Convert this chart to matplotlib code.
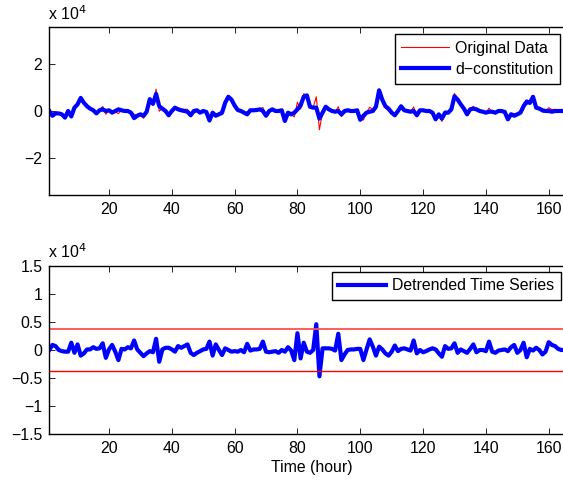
import matplotlib
matplotlib.use("Agg")
import matplotlib.pyplot as plt
from matplotlib.ticker import FuncFormatter

plt.rcParams["font.family"] = ["Liberation Sans", "DejaVu Sans"]
plt.rcParams["font.size"] = 11.4

hours = list(range(1, 169))

# d-constitution (smoothed component), raw units
d_constitution = [
    0, -2000, -1000, -1000, -1400, -2800, 0, -2300, 1400, 2800,
    5500, 3500, 2000, 1000, 300, -1000, 300, 700, 0, 300,
    -700, 0, 700, 300, 0, 0, -700, -3000, -2000, -1400,
    -2000, -300, 5000, 3000, 7200, 2000, 1000, 0, -1800, 0,
    1400, 700, 300, 0, -300, -1800, 0, 300, -700, 0,
    -400, -4000, -700, -2000, -1400, -700, 3500, 6000, 4800, 2300,
    400, 0, -700, -1400, 300, 300, 400, 700, 0, -2000,
    0, 700, 0, 0, 300, -4200, -700, -1400, -700, 700,
    2300, 6000, 6600, 1800, 1400, 1400, -3200, -700, 1800, 700,
    0, -300, 0, -1400, 0, 300, 0, 0, 300, -3700,
    -2000, -700, -300, 0, 1800, 8700, 4800, 2000, 1000, -700,
    -1800, 0, 2000, 300, 0, -300, 0, -1800, 300, 300,
    0, 0, -700, -3500, -1400, -3200, -700, -700, 700, 6200,
    4800, 2800, 1000, -1400, 700, 1000, 700, 0, -300, -700,
    -300, -300, -700, 0, 0, -400, -3500, -1400, -2000, -1400,
    -700, 2000, 4000, 3400, 6000, 1400, 1000, 300, 0, 0,
    -300, 0, 0, 0, 0, 0, 0, 0,
]

# original hourly data, raw units
original = [
    0, -1100, -300, -1000, -1600, -3100, -300, -1000, 900, 3800,
    4500, 2900, 2100, 1100, 800, -800, 600, 1900, -1400, 400,
    200, -300, -1100, 500, 100, 500, -400, -1300, -1900, -1900,
    -3100, -900, 4800, 2600, 9200, -100, 1100, 400, -1400, 100,
    1100, 1400, 700, 700, 700, -2300, -900, -200, -900, 100,
    -200, -2500, -1700, -1000, -1400, -1600, 3800, 6000, 4500, 2100,
    100, 0, -1100, -300, 200, 400, 500, 900, 1500, -2300,
    -400, 400, -200, -500, 300, -4500, -200, -1500, -2500, 3700,
    800, 7300, 6300, 1300, 1400, 6000, -7900, -400, 2100, 1000,
    200, -400, 1800, -2400, -800, 300, 100, 100, 500, -3500,
    -3800, -600, 1600, 600, 800, 9300, 4900, 1400, 0, -1000,
    -1000, -200, 2200, 600, 100, -400, 1700, -2400, 300, -100,
    -200, 100, -400, -3400, -2000, -4400, 0, -500, 1000, 7400,
    4300, 2900, 800, -1900, 900, 2000, 300, 0, -300, -900,
    1200, -600, -1200, -100, 0, -300, -3700, -900, -1100, -1900,
    -700, 3300, 2700, 3600, 5900, 1800, 1000, -500, -300, 1400,
    600, 700, 200, 0, 0, 0, 0, 0,
]

# detrended series, raw units
detrended = [
    0, 900, 700, 0, -200, -300, -300, 1300, -500, 1000,
    -1000, -600, 100, 100, 500, 200, 300, 1200, -1400, 100,
    900, -300, -1800, 200, 100, 500, 300, 1700, 100, -500,
    -1100, -600, -200, -400, 2000, -2100, 100, 400, 400, 100,
    -300, 700, 400, 700, 1000, -500, -900, -500, -200, 100,
    200, 1500, -1000, 1000, 0, -900, 300, 0, -300, -200,
    -300, 0, -400, 1100, -100, 100, 100, 200, 1500, -300,
    -400, -300, -200, -500, 0, -300, 500, -100, -1800, 3000,
    -1500, 1300, -300, -500, 0, 4600, -4700, 300, 300, 300,
    200, -100, 2900, -1800, -800, 0, 100, 100, 200, 200,
    -1800, 100, 1900, 600, -1000, 600, 100, -600, -1000, -300,
    800, -200, 200, 300, 100, -100, 1700, -600, 0, -400,
    -200, 100, 300, 100, -600, -1200, 700, 200, 300, 1200,
    -500, 100, -200, -500, 200, 1000, -400, 0, 0, -200,
    1500, -300, -500, -100, 0, 100, -200, 500, 900, -500,
    0, 1300, -1300, 200, -100, 400, 0, -800, -300, 1400,
    900, 700, 200, 0, 0, 0, 0, 0,
]

threshold = 3800

W, H = 563, 480
fig = plt.figure(figsize=(W / 100, H / 100), dpi=100)

left = 49.3 / W
width = 167 * 3.141 / W
ax_top = fig.add_axes([left, 1 - 195.3 / H, width, 168.6 / H])
ax_bot = fig.add_axes([left, 1 - 434 / H, width, 168 / H])

# tick labels in units of 1e4, with a true minus sign
fmt = FuncFormatter(lambda v, pos: ("%g" % (v / 1e4)).replace("-", "\u2212"))

ax_top.plot(hours, original, color="red", linewidth=0.8, label="Original Data")
ax_top.plot(hours, d_constitution, color="blue", linewidth=3.0, label="d\u2212constitution")
ax_top.set_ylim(-3.55e4, 3.55e4)
ax_top.set_yticks([-2e4, 0, 2e4])

ax_bot.plot(hours, detrended, color="blue", linewidth=3.0, label="Detrended Time Series")
ax_bot.axhline(threshold, color="#ff5050", linewidth=1.3)
ax_bot.axhline(-threshold, color="red", linewidth=1.0)
ax_bot.set_ylim(-1.5e4, 1.5e4)
ax_bot.set_yticks([-1.5e4, -1e4, -0.5e4, 0, 0.5e4, 1e4, 1.5e4])
ax_bot.set_xlabel("Time (hour)", labelpad=3)

for ax in (ax_top, ax_bot):
    ax.set_xlim(1, 168)
    ax.set_xticks(range(20, 161, 20))
    ax.yaxis.set_major_formatter(fmt)
    ax.tick_params(direction="in", length=4, width=0.6, top=True, right=True,
                   labelsize=11.4, pad=5)
    for sp in ax.spines.values():
        sp.set_linewidth(1.0)

leg_kw = dict(frameon=True, fancybox=False, edgecolor="black", framealpha=1,
              borderaxespad=0, handlelength=3.0, handletextpad=0.4,
              borderpad=0.42, labelspacing=0.4, fontsize=11.4,
              bbox_transform=fig.transFigure, loc="upper right")
lg1 = ax_top.legend(bbox_to_anchor=(560 / W, 1 - 34 / H), **leg_kw)
lg2 = ax_bot.legend(bbox_to_anchor=(561 / W, 1 - 271.7 / H), **leg_kw)
for lg in (lg1, lg2):
    lg.get_frame().set_linewidth(1.0)

fig.text(48 / W, 1 - 20 / H, "x 10$^4$", fontsize=11.4, ha="left", va="baseline")
fig.text(48 / W, 1 - 258 / H, "x 10$^4$", fontsize=11.4, ha="left", va="baseline")

fig.savefig("out.png", dpi=100)
